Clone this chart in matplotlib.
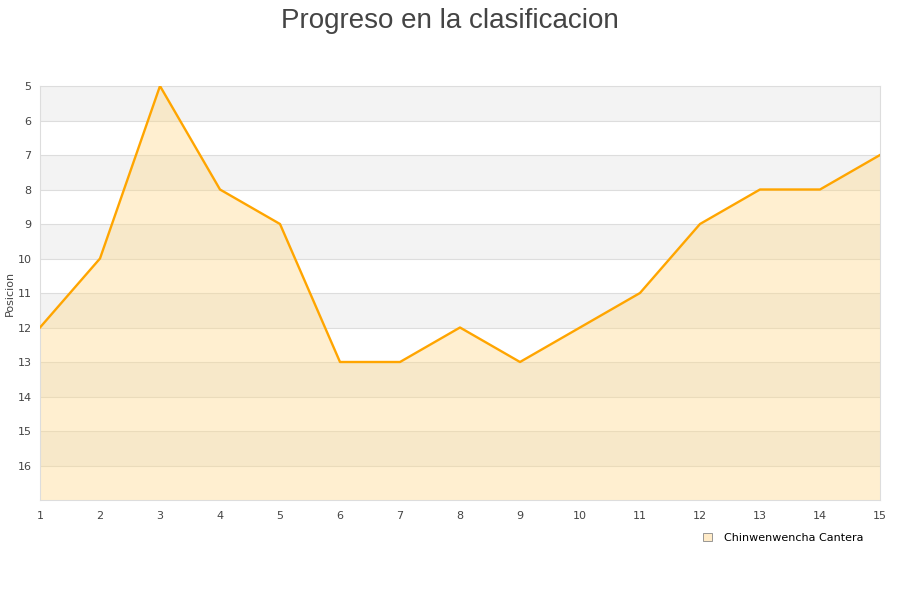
import matplotlib
matplotlib.use("Agg")
import matplotlib.pyplot as plt
from matplotlib.patches import Patch

# jornadas y posicion
jornadas = [1, 2, 3, 4, 5, 6, 7, 8, 9, 10, 11, 12, 13, 14, 15]
posicion = [12, 10, 5, 8, 9, 13, 13, 12, 13, 12, 11, 9, 8, 8, 7]
equipo = "Chinwenwencha Cantera"

plt.rcParams['font.family'] = ['DejaVu Sans']

fig = plt.figure(figsize=(9, 6), dpi=100)
ax = fig.add_axes([40/900, 1 - 500/600, 840/900, 414/600])

# bandas alternas
for y0 in range(5, 17, 2):
    ax.axhspan(y0, y0 + 1, color='#f3f3f3', zorder=0, lw=0)
for y in range(6, 17):
    ax.axhline(y, color='#dddddd', lw=0.8, zorder=1)

ax.fill_between(jornadas, posicion, 17, color='#ffd98a', alpha=0.4, lw=0, zorder=2)
ax.plot(jornadas, posicion, color='#ffa500', lw=1.7, zorder=3)

ax.set_xlim(1, 15)
ax.set_ylim(17, 5)
ax.set_xticks(jornadas)
ax.set_yticks(range(5, 17))
ax.tick_params(length=0, labelsize=8, colors='#444444', pad=6)
ax.tick_params(axis='x', pad=8)
for s in ax.spines.values():
    s.set_color('#dddddd')
ax.set_ylabel('Posicion', fontsize=8, color='#444444', labelpad=2)

fig.text(0.5, 0.987, 'Progreso en la clasificacion', ha='center', va='top',
         fontsize=20, color='#444444', family='Liberation Sans')

fig.legend(handles=[Patch(facecolor='#ffebc8', edgecolor='#888888', lw=0.6, label=equipo)],
           loc='center left', bbox_to_anchor=(693/900, 1 - 538/600), frameon=False,
           fontsize=8, handlelength=0.8, handleheight=0.8, handletextpad=1.1)

fig.savefig('out.png', dpi=100)
